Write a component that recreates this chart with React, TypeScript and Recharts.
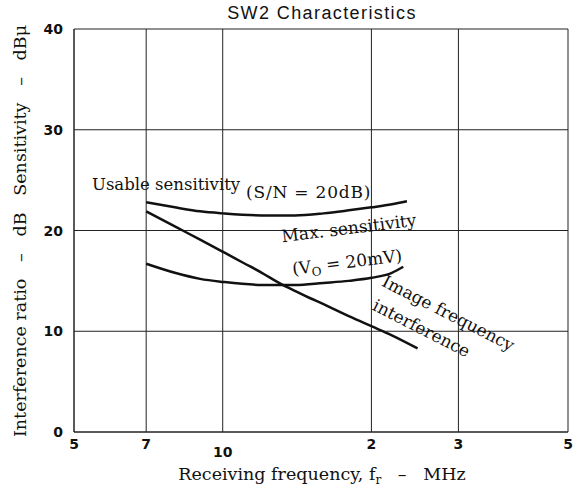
import React from "react";
import { LineChart, Line, XAxis, YAxis, CartesianGrid } from "recharts";

// receiving frequency in MHz, level in dB / dBμ
const FREQ_TICKS = [5, 7, 10, 20, 30, 50];
const FREQ_TICK_LABELS = ["5", "7", "10", "2", "3", "5"];
const LEVEL_TICKS = [0, 10, 20, 30, 40];

const usableFreq = [7, 8, 9, 10, 12, 14, 16, 18, 20, 22, 23.6];
const usableDb = [22.8, 22.3, 21.9, 21.7, 21.5, 21.5, 21.7, 22.0, 22.3, 22.6, 22.9];

const maxFreq = [7, 8, 9, 10, 12, 14, 16, 18, 20, 22, 23.2];
const maxDb = [16.7, 15.8, 15.2, 14.9, 14.6, 14.6, 14.8, 15.0, 15.3, 15.8, 16.4];

const imageFreq = [7, 8, 9, 10, 11, 12, 13, 14, 15, 16, 18, 20, 22, 24.8];
const imageDb = [21.9, 20.4, 19.1, 17.9, 16.8, 15.8, 14.8, 14.0, 13.3, 12.7, 11.5, 10.5, 9.6, 8.3];

const toPoints = (fs: number[], vs: number[]) =>
  fs.map((f, i) => ({ f, v: vs[i] }));

const INK = "#111";
const SERIF = "'DejaVu Serif', 'Liberation Serif', serif";
const TICK_FONT = "'DejaVu Sans', sans-serif";
const NB = "\u00a0";

function FreqTick(props: any) {
  const { x, y, payload } = props;
  const idx = FREQ_TICKS.indexOf(payload.value);
  return (
    <text
      x={x}
      y={y}
      dy={payload.value === 10 ? 17 : 9}
      textAnchor="middle"
      fontFamily={TICK_FONT}
      fontWeight="bold"
      fontSize={14}
      fill={INK}
    >
      {FREQ_TICK_LABELS[idx]}
    </text>
  );
}

function LevelTick(props: any) {
  const { x, y, payload } = props;
  return (
    <text
      x={x}
      y={y}
      dx={-3}
      dy={5}
      textAnchor="end"
      fontFamily={TICK_FONT}
      fontWeight="bold"
      fontSize={14}
      fill={INK}
    >
      {payload.value}
    </text>
  );
}

export default function App() {
  const lineProps = {
    dataKey: "v",
    type: "monotone" as const,
    dot: false,
    stroke: INK,
    strokeWidth: 2.5,
    isAnimationActive: false,
  };

  return (
    <div style={{ position: "absolute", left: 0, top: 0, background: "#fff" }}>
      <LineChart
        width={579}
        height={490}
        margin={{ top: 29, right: 11, left: 0, bottom: 0 }}
      >
        <CartesianGrid stroke="#222" strokeWidth={1} />
        <XAxis
          dataKey="f"
          type="number"
          scale="log"
          domain={[5, 50]}
          ticks={FREQ_TICKS}
          allowDataOverflow
          height={58}
          axisLine={{ stroke: "#222" }}
          tickLine={false}
          tick={<FreqTick />}
        />
        <YAxis
          type="number"
          domain={[0, 40]}
          ticks={LEVEL_TICKS}
          width={74}
          axisLine={{ stroke: "#222" }}
          tickLine={false}
          tick={<LevelTick />}
        />
        <Line data={toPoints(usableFreq, usableDb)} {...lineProps} name="Usable sensitivity" />
        <Line data={toPoints(maxFreq, maxDb)} {...lineProps} name="Max. sensitivity" />
        <Line data={toPoints(imageFreq, imageDb)} {...lineProps} name="Image frequency interference" />

        <text
          x={322}
          y={19}
          textAnchor="middle"
          fontFamily="'Liberation Sans', Arial, sans-serif"
          fontSize={18}
          letterSpacing={1.4}
          fill={INK}
        >
          SW2 Characteristics
        </text>
        <text
          transform="translate(20,231) rotate(-90)"
          textAnchor="middle"
          dy={6}
          fontFamily={SERIF}
          fontSize={17.5}
          fill={INK}
        >
          {`Interference ratio${NB} ${NB}–${NB} ${NB}dB${NB} ${NB}Sensitivity${NB} ${NB}–${NB} ${NB}dBμ`}
        </text>
        <text x={322} y={480} textAnchor="middle" fontFamily={SERIF} fontSize={17.5} fill={INK}>
          Receiving frequency, f
          <tspan fontSize={12} dy={4}>r</tspan>
          <tspan dy={-4}>{`${NB} ${NB}–${NB} ${NB}MHz`}</tspan>
        </text>

        <text x={92} y={190} fontFamily={SERIF} fontSize={16.5} fill={INK}>
          Usable sensitivity
        </text>
        <text x={246} y={198} fontFamily={SERIF} fontSize={17} letterSpacing={0.8} fill={INK}>
          {`(S/N${NB}=${NB}20dB)`}
        </text>
        <text
          transform="translate(349,229) rotate(-7)"
          textAnchor="middle"
          dy={5}
          fontFamily={SERIF}
          fontSize={17}
          fill={INK}
        >
          Max. sensitivity
        </text>
        <text
          transform="translate(347,262) rotate(-7)"
          textAnchor="middle"
          dy={6}
          fontFamily={SERIF}
          fontSize={17}
          fill={INK}
        >
          (V
          <tspan fontSize={12} dy={4}>O</tspan>
          <tspan dy={-4}>{`${NB}=${NB}20mV)`}</tspan>
        </text>
        <text
          transform="translate(448,314) rotate(27)"
          textAnchor="middle"
          dy={5}
          fontFamily={SERIF}
          fontSize={17}
          fill={INK}
        >
          Image frequency
        </text>
        <text
          transform="translate(421,329) rotate(27)"
          textAnchor="middle"
          dy={5}
          fontFamily={SERIF}
          fontSize={17}
          fill={INK}
        >
          interference
        </text>
      </LineChart>
    </div>
  );
}
